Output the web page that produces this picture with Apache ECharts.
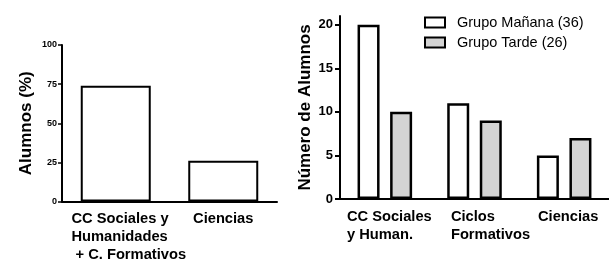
<!DOCTYPE html>
<html>
<head>
<meta charset="utf-8">
<script src="https://cdn.jsdelivr.net/npm/echarts@6/dist/echarts.min.js"></script>
<style>
  html, body { margin: 0; padding: 0; background: #fff; }
  #main { width: 609px; height: 262px; }
</style>
</head>
<body>
<div id="main"></div>
<script>
// left panel: percentage of students by area
const leftCategories = ['CC Sociales y\nHumanidades\n + C. Formativos', 'Ciencias'];
const leftValues = [74, 26];
const leftTicks = [0, 25, 50, 75, 100];

// right panel: number of students per group
const rightCategories = ['CC Sociales\ny Human.', 'Ciclos\nFormativos', 'Ciencias'];
const seriesNames = ['Grupo Mañana (36)', 'Grupo Tarde (26)'];
const mananaValues = [20, 11, 5];
const tardeValues = [10, 9, 7];
const rightTicks = [0, 5, 10, 15, 20];

const FONT = "'Liberation Sans', Arial, sans-serif";

// extra left padding per label block (shifts the left-aligned block to the right)
const leftShift = [26, 0];
const rightShift = [9, 32, 8];

function richLabel(prefix, shifts, size) {
  const rich = {};
  shifts.forEach((p, i) => {
    rich[prefix + i] = {
      align: 'left', fontSize: size, fontWeight: 'bold', fontFamily: FONT,
      color: '#000', lineHeight: 18, padding: [0, 0, 0, p]
    };
  });
  return rich;
}

function makeFormatter(prefix, cats) {
  return function (value) {
    const idx = cats.indexOf(value);
    return value.split('\n').map(l => '{' + prefix + idx + '|' + l + '}').join('\n');
  };
}

const chart = echarts.init(document.getElementById('main'));

const axisLineStyle = { show: true, lineStyle: { color: '#000', width: 2 } };

chart.setOption({
  animation: false,
  textStyle: { fontFamily: FONT },
  legend: {
    orient: 'vertical',
    left: 419,
    top: 10,
    icon: 'rect',
    itemWidth: 20,
    itemHeight: 10,
    itemGap: 5,
    data: seriesNames,
    itemStyle: { borderColor: '#000', borderWidth: 2 },
    textStyle: { fontSize: 14.5, color: '#000', fontFamily: FONT, padding: [0, 0, 0, 7] }
  },
  grid: [
    { left: 62, top: 45, width: 215, height: 157 },
    { left: 340, top: 16, width: 269, height: 183 }
  ],
  xAxis: [
    {
      type: 'category', gridIndex: 0, data: leftCategories,
      axisLine: axisLineStyle, axisTick: { show: false },
      axisLabel: {
        interval: 0, margin: 8,
        formatter: makeFormatter('l', leftCategories),
        rich: richLabel('l', leftShift, 14.7)
      }
    },
    {
      type: 'category', gridIndex: 1, data: rightCategories,
      axisLine: axisLineStyle, axisTick: { show: false },
      axisLabel: {
        interval: 0, margin: 9,
        formatter: makeFormatter('r', rightCategories),
        rich: richLabel('r', rightShift, 14.7)
      }
    }
  ],
  yAxis: [
    {
      type: 'value', gridIndex: 0, min: 0, max: 100, interval: 25,
      name: 'Alumnos (%)', nameLocation: 'middle', nameGap: 27,
      nameTextStyle: { fontSize: 17, fontWeight: 'bold', color: '#000', fontFamily: FONT },
      axisLine: axisLineStyle,
      axisTick: { show: true, length: 4, lineStyle: { color: '#000', width: 1.5 } },
      splitLine: { show: false },
      axisLabel: {
        margin: 5, fontSize: 9, fontWeight: 'bold', color: '#000',
        customValues: leftTicks
      }
    },
    {
      type: 'value', gridIndex: 1, min: 0, max: 21, interval: 5,
      name: 'Número de Alumnos', nameLocation: 'middle', nameGap: 26,
      nameTextStyle: { fontSize: 17, fontWeight: 'bold', color: '#000', fontFamily: FONT },
      axisLine: axisLineStyle,
      axisTick: { show: true, length: 5, lineStyle: { color: '#000', width: 2 }, customValues: rightTicks },
      splitLine: { show: false },
      axisLabel: {
        margin: 7, fontSize: 13, fontWeight: 'bold', color: '#000',
        customValues: rightTicks
      }
    }
  ],
  series: [
    {
      type: 'bar', xAxisIndex: 0, yAxisIndex: 0, data: leftValues,
      barWidth: 70,
      itemStyle: { color: '#fff', borderColor: '#000', borderWidth: 2 }
    },
    {
      name: seriesNames[0], type: 'bar', xAxisIndex: 1, yAxisIndex: 1, data: mananaValues,
      barWidth: 22, barGap: '48%',
      itemStyle: { color: '#fff', borderColor: '#000', borderWidth: 2.5 }
    },
    {
      name: seriesNames[1], type: 'bar', xAxisIndex: 1, yAxisIndex: 1, data: tardeValues,
      barWidth: 22, barGap: '48%',
      itemStyle: { color: '#d4d4d4', borderColor: '#000', borderWidth: 2.5 }
    }
  ]
});
</script>
</body>
</html>
